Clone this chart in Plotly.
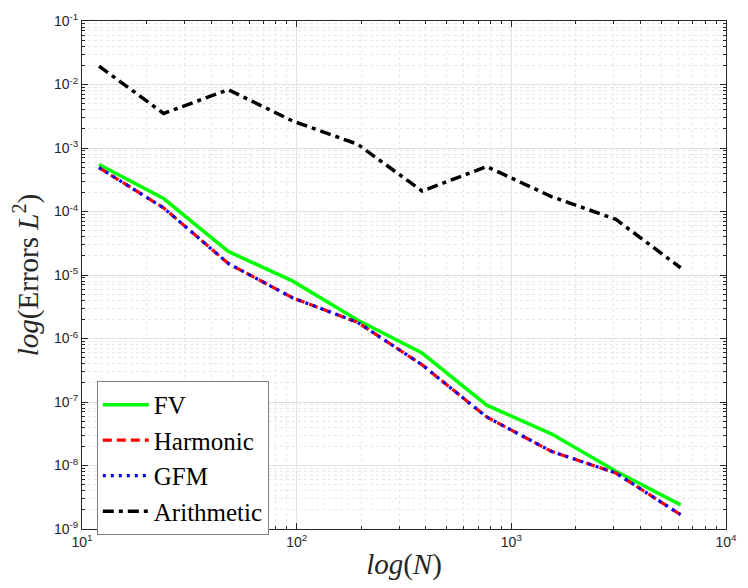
import plotly.graph_objects as go

N = [12, 24, 48, 96, 192, 384, 768, 1536, 3072, 6144]
fv = [5.5e-4, 1.6e-4, 2.35e-5, 8.0e-6, 1.95e-6, 5.9e-7, 8.9e-8, 3.15e-8, 8.1e-9, 2.4e-9]
harmonic = [4.9e-4, 1.14e-4, 1.52e-5, 4.35e-6, 1.8e-6, 3.85e-7, 5.8e-8, 1.67e-8, 7.6e-9, 1.68e-9]
gfm = [4.9e-4, 1.14e-4, 1.52e-5, 4.35e-6, 1.8e-6, 3.85e-7, 5.8e-8, 1.67e-8, 7.6e-9, 1.68e-9]
arithmetic = [1.95e-2, 3.5e-3, 8.3e-3, 2.65e-3, 1.15e-3, 2.1e-4, 5.1e-4, 1.72e-4, 7.5e-5, 1.3e-5]

x_tickvals = [10, 100, 1000, 10000]
x_ticktext = ["10<sup>1</sup>", "10<sup>2</sup>", "10<sup>3</sup>", "10<sup>4</sup>"]
y_tickvals = [1e-9, 1e-8, 1e-7, 1e-6, 1e-5, 1e-4, 1e-3, 1e-2, 1e-1]
y_ticktext = ["10<sup>-9</sup>", "10<sup>-8</sup>", "10<sup>-7</sup>", "10<sup>-6</sup>",
              "10<sup>-5</sup>", "10<sup>-4</sup>", "10<sup>-3</sup>", "10<sup>-2</sup>",
              "10<sup>-1</sup>"]

fig = go.Figure()
fig.add_trace(go.Scatter(x=N, y=fv, mode="lines", name="FV",
                         line=dict(color="#00FF00", width=3.5)))
fig.add_trace(go.Scatter(x=N, y=harmonic, mode="lines", name="Harmonic",
                         line=dict(color="#FF0000", width=3.2, dash="9px,5px")))
fig.add_trace(go.Scatter(x=N, y=gfm, mode="lines", name="GFM",
                         line=dict(color="#0000FF", width=3.2, dash="3px,5px")))
fig.add_trace(go.Scatter(x=N, y=arithmetic, mode="lines", name="Arithmetic",
                         line=dict(color="#000000", width=3.5, dash="11px,5px,4px,5px")))

tickfont = dict(family="Liberation Sans", size=14, color="#262626")
axis_common = dict(
    type="log", tickmode="array",
    showline=True, linecolor="#262626", linewidth=1, mirror="ticks",
    ticks="inside", ticklen=6, tickcolor="#262626",
    showgrid=True, gridcolor="#e1e1e1", gridwidth=1,
    minor=dict(tickmode="linear", dtick="D1", ticks="inside", ticklen=3, tickcolor="#262626",
               showgrid=True, gridcolor="#e8e8e8", griddash="dot", gridwidth=1),
    tickfont=tickfont, zeroline=False,
)

titlefont = dict(family="Liberation Serif", size=29, color="#262626")
fig.update_xaxes(**axis_common, range=[1, 4],
                 tickvals=x_tickvals, ticktext=x_ticktext,
                 title=dict(text="<i>log</i>(<i>N</i>)", font=titlefont, standoff=4))
fig.update_yaxes(**axis_common, range=[-9, -1],
                 tickvals=y_tickvals, ticktext=y_ticktext,
                 title=dict(text="<i>log</i>(Errors <i>L</i><sup>2</sup>)", font=titlefont,
                            standoff=6))

fig.update_layout(
    width=748, height=588,
    margin=dict(l=82, r=11, t=11, b=59),
    paper_bgcolor="white", plot_bgcolor="white",
    font=dict(family="Liberation Serif"),
    showlegend=True,
    legend=dict(x=0.023, y=0.2915, xanchor="left", yanchor="top",
                bgcolor="white", bordercolor="#7f7f7f", borderwidth=1,
                font=dict(family="Liberation Serif", size=25, color="#000000"),
                tracegroupgap=0, itemwidth=46),
)

fig.write_html("out.html")
